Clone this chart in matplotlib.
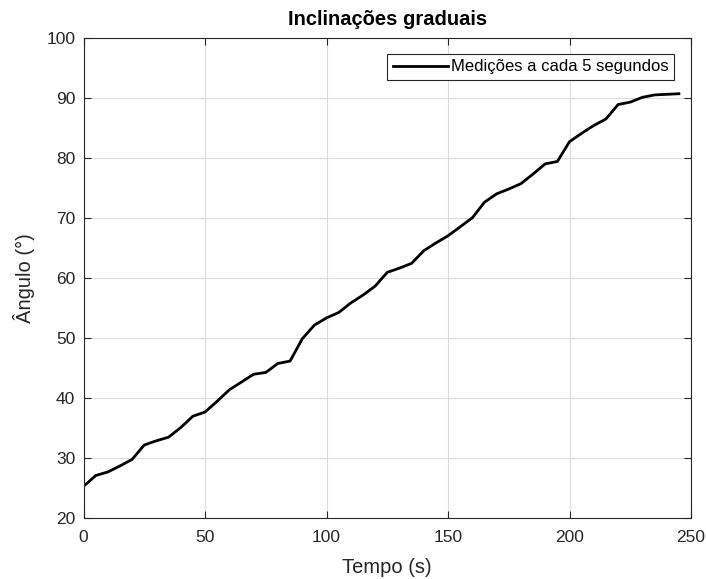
import matplotlib
matplotlib.use("Agg")
import matplotlib.pyplot as plt
import numpy as np

# Tempo de amostragem e angulo medido
tempo = np.arange(0, 250, 5)
angulo = [25.2, 27.0, 27.6, 28.6, 29.7, 32.1, 32.8, 33.4, 35.0, 36.9,
          37.6, 39.4, 41.3, 42.6, 43.9, 44.2, 45.7, 46.1, 49.8, 52.1,
          53.3, 54.2, 55.8, 57.1, 58.6, 60.9, 61.6, 62.4, 64.5, 65.8,
          67.0, 68.5, 70.0, 72.6, 74.0, 74.8, 75.7, 77.3, 79.0, 79.4,
          82.7, 84.1, 85.4, 86.5, 88.9, 89.3, 90.1, 90.5, 90.6, 90.7]

plt.rcParams['font.family'] = ['Liberation Sans', 'DejaVu Sans']

fig = plt.figure(figsize=(7.06, 5.79), dpi=100)
ax = fig.add_axes([0.1183, 0.1062, 0.8605, 0.8282])

ax.plot(tempo, angulo, color='black', linewidth=2.0,
        label='Medições a cada 5 segundos')

ax.set_xlim(0, 250)
ax.set_ylim(20, 100)
ax.set_xticks(np.arange(0, 251, 50))
ax.set_yticks(np.arange(20, 101, 10))
ax.grid(True, color='#dcdcdc', linewidth=0.8)
ax.set_axisbelow(True)

ax.tick_params(direction='in', top=True, right=True, length=5,
               labelsize=12.5, colors='#262626', width=0.8)
ax.tick_params(axis='x', pad=9)
ax.tick_params(axis='y', pad=6)
for s in ax.spines.values():
    s.set_color('#262626')
    s.set_linewidth(0.8)

ax.set_xlabel('Tempo (s)', fontsize=14.5, color='#262626', labelpad=9)
ax.set_ylabel('Ângulo (°)', fontsize=14.5, color='#262626', labelpad=8)
ax.set_title('Inclinações graduais', fontsize=14.5, fontweight='bold', pad=9)

leg = ax.legend(loc='upper right', fontsize=12, fancybox=False,
                edgecolor='#262626', framealpha=1, handlelength=3.3,
                handletextpad=0.15, borderpad=0.35,
                bbox_to_anchor=(0.986, 0.985))
leg.get_frame().set_linewidth(0.8)

fig.savefig('out.png', dpi=100, facecolor='white')
